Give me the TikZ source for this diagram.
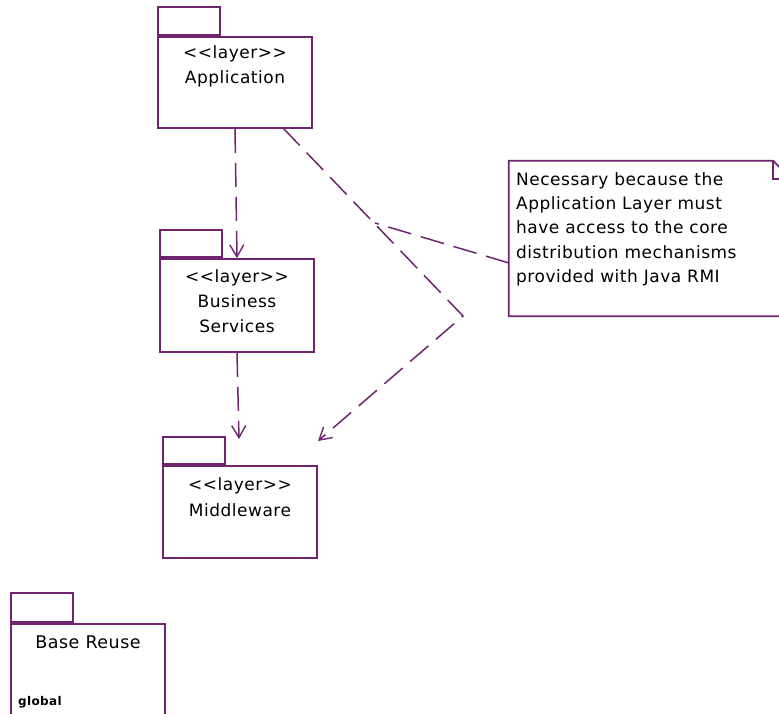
\documentclass[tikz,border=0pt]{standalone}
\usepackage{fontspec}
\usetikzlibrary{arrows.meta,calc}
\newfontfamily\umlfont{DejaVu Sans}[LetterSpace=3]
\definecolor{umlline}{RGB}{110,36,110}

\begin{document}
\begin{tikzpicture}[x=1pt,y=-1pt,
  pkgbody/.style={draw=umlline, line width=1.7pt, rectangle, inner sep=0pt,
                  minimum width=154pt},
  pkgtab/.style={draw=umlline, line width=1.7pt, rectangle, inner sep=0pt,
                 minimum width=62pt, minimum height=28pt, anchor=south west},
  pkglabel/.style={inner sep=0pt, anchor=base,
                   font=\umlfont\fontsize{17}{20}\selectfont},
  dep/.style={draw=umlline, line width=1.5pt, dash pattern=on 24pt off 10pt,
              -{Straight Barb[length=12pt,width=14pt,line width=1.4pt]}},
  notelink/.style={draw=umlline, line width=1.5pt, dash pattern=on 24pt off 10pt},
  noteline/.style={draw=umlline, line width=1.7pt}
]
\useasboundingbox (0,0) rectangle (779,713);
\clip (0,0) rectangle (779,713);

% Application layer
\node[pkgbody, minimum height=91pt] (app) at (235,82.5) {};
\node[pkgtab] (app-tab) at (app.north west) {};
\node[pkglabel] (app-st) at (235,58) {<<layer>>};
\node[pkglabel] (app-name) at (235,83) {Application};

% Business Services layer
\node[pkgbody, minimum height=93pt] (bus) at (237,305.5) {};
\node[pkgtab, minimum height=27pt] (bus-tab) at (bus.north west) {};
\node[pkglabel] (bus-st) at (237,282) {<<layer>>};
\node[pkglabel] (bus-name1) at (237,307) {Business};
\node[pkglabel] (bus-name2) at (237,332) {Services};

% Middleware layer
\node[pkgbody, minimum height=92pt] (mid) at (240,512) {};
\node[pkgtab, minimum height=27pt] (mid-tab) at (mid.north west) {};
\node[pkglabel] (mid-st) at (240,490) {<<layer>>};
\node[pkglabel] (mid-name) at (240,516) {Middleware};

% Base Reuse package (global)
\node[pkgbody, minimum height=116pt] (base) at (88,682) {};
\node[pkgtab, minimum height=29pt] (base-tab) at (base.north west) {};
\node[pkglabel, font=\umlfont\fontsize{17.5}{20}\selectfont] (base-name) at (88,648) {Base Reuse};
\node[inner sep=0pt, anchor=base west, font=\umlfont\fontsize{12}{14}\selectfont\bfseries]
  (base-global) at (18,705) {global};

% Note with folded corner
\node[inner sep=0pt, minimum width=282pt, minimum height=155pt] (note) at (650,238.5) {};
\draw[noteline] (note.north west) -- ($(note.north east)+(-18,0)$)
  -- ($(note.north east)+(0,18)$) -- (note.south east) -- (note.south west) -- cycle;
\draw[noteline] ($(note.north east)+(-18,0)$) -- ($(note.north east)+(-18,18)$)
  -- ($(note.north east)+(0,18)$);
\node[inner sep=0pt, anchor=north west, align=left,
      font=\umlfont\fontsize{17}{24.3}\selectfont] (note-text) at (516,172)
  {Necessary because the\\Application Layer must\\have access to the core\\distribution mechanisms\\provided with Java RMI};

% Dependencies
\coordinate (app-foot) at (283,128);
\coordinate (bend) at (463,316);
\coordinate (mid-tip) at (318,441);
\coordinate (mid-top) at (239,439);
\coordinate (link-end) at (375,223);
\coordinate (note-port) at (509,263);

\draw[dep] (app.south) -- (bus.north);
\draw[dep] (bus.south) -- (mid-top);
\draw[dep] (app-foot) -- (bend) -- (mid-tip);
\draw[notelink] (note-port) -- (link-end);
\end{tikzpicture}
\end{document}
